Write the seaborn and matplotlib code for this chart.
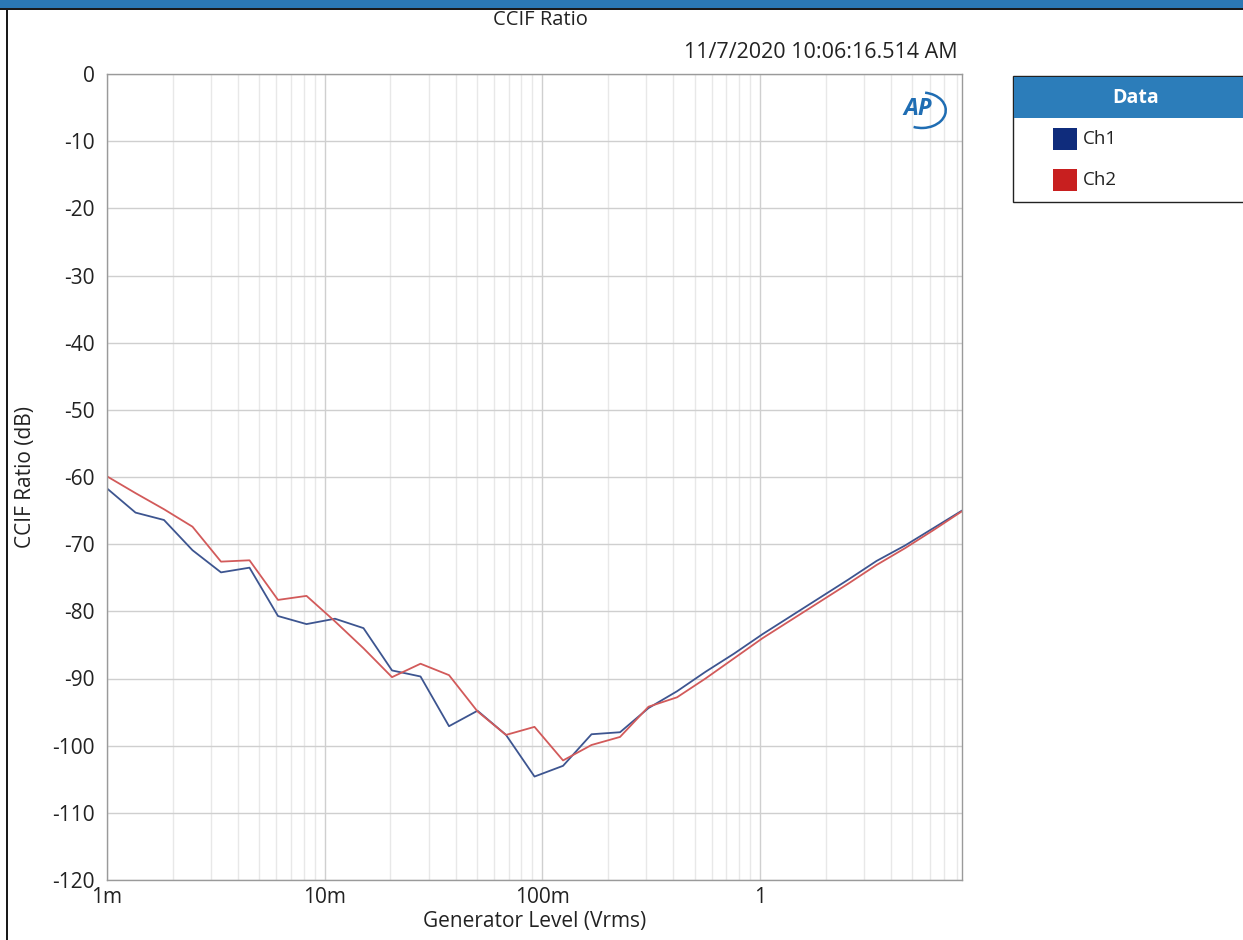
import numpy as np
import pandas as pd
import seaborn as sns
import matplotlib
matplotlib.use("Agg")
import matplotlib.pyplot as plt
from matplotlib.patches import Rectangle, Arc
from matplotlib.ticker import FixedLocator, LogLocator, NullFormatter

# Generator sweep (Vrms)
level_v = [0.001000, 0.001352, 0.001827, 0.002470, 0.003339, 0.004514, 0.006102,
           0.008249, 0.01115, 0.01507, 0.02038, 0.02755, 0.03724, 0.05034,
           0.06805, 0.09199, 0.1244, 0.1681, 0.2273, 0.3072, 0.4153, 0.5614,
           0.7589, 1.026, 1.387, 1.875, 2.534, 3.426, 4.631, 6.260, 8.46]

# CCIF ratio per channel (dB)
ch1_db = [-61.7, -65.3, -66.4, -70.9, -74.2, -73.5, -80.7, -81.9, -81.1, -82.5,
          -88.8, -89.7, -97.1, -94.8, -98.4, -104.6, -103.0, -98.3, -98.0, -94.4,
          -91.9, -89.0, -86.3, -83.4, -80.7, -78.0, -75.3, -72.5, -70.2, -67.6, -65.0]
ch2_db = [-59.9, -62.4, -64.8, -67.4, -72.6, -72.4, -78.3, -77.7, -81.5, -85.5,
          -89.8, -87.8, -89.5, -94.9, -98.4, -97.2, -102.2, -99.9, -98.7, -94.2,
          -92.8, -90.0, -87.0, -84.0, -81.3, -78.6, -75.9, -73.1, -70.6, -67.9, -65.1]

channels = ["Ch1", "Ch2"]
line_colors = ["#3d5590", "#d25a5a"]
legend_colors = ["#0f2c7c", "#c81f1f"]

x_ticks = [0.001, 0.01, 0.1, 1]
x_tick_labels = ["1m", "10m", "100m", "1"]
y_ticks = list(range(0, -121, -10))

df = pd.DataFrame({
    "level": level_v * 2,
    "ratio": ch1_db + ch2_db,
    "channel": [channels[0]] * len(level_v) + [channels[1]] * len(level_v),
})

sns.set_style("white")
plt.rcParams["font.family"] = ["Open Sans", "DejaVu Sans"]

W, H = 1243, 940
fig = plt.figure(figsize=(W / 100, H / 100), dpi=100)
ax = fig.add_axes([107 / W, 1 - 880 / H, (962 - 107) / W, (880 - 74) / H])

sns.lineplot(data=df, x="level", y="ratio", hue="channel", hue_order=channels,
             palette=line_colors, linewidth=1.3, legend=False, ax=ax, sort=False)

ax.set_xscale("log")
ax.set_xlim(0.001, 8.46)
ax.set_ylim(-120, 0)
ax.xaxis.set_major_locator(FixedLocator(x_ticks))
ax.set_xticklabels(x_tick_labels)
ax.xaxis.set_minor_locator(LogLocator(base=10, subs=np.arange(2, 10)))
ax.xaxis.set_minor_formatter(NullFormatter())
ax.set_yticks(y_ticks)
ax.set_yticklabels([str(v) for v in y_ticks])

ax.grid(which="major", color="#cfcfcf", linewidth=1.0)
ax.grid(which="minor", axis="x", color="#e8e8e8", linewidth=1.0)
ax.set_axisbelow(True)
ax.tick_params(axis="both", which="both", length=0, labelsize=15, colors="#222222")
ax.tick_params(axis="x", pad=5)
ax.tick_params(axis="y", pad=9)
for s in ax.spines.values():
    s.set_color("#9a9a9a")
    s.set_linewidth(1.0)

ax.set_xlabel("Generator Level (Vrms)", fontsize=15, color="#222222")
ax.set_ylabel("CCIF Ratio (dB)", fontsize=15, color="#222222")
ax.xaxis.label.set_va("center")
ax.yaxis.label.set_va("center")
ax.xaxis.set_label_coords(0.5, -(921 - 880) / 806)
ax.yaxis.set_label_coords(-(107 - 26) / 855, 0.5)

# Titles
fig.text(540 / W, 1 - 20 / H, "CCIF Ratio", ha="center", va="center",
         fontsize=14.5, color="#222222")
fig.text(958 / W, 1 - 52 / H, "11/7/2020 10:06:16.514 AM", ha="right",
         va="center", fontsize=15.5, color="#222222")

# Window chrome: top bar and left border
fig.patches.append(Rectangle((0, 1 - 8 / H), 1, 8 / H, transform=fig.transFigure,
                             facecolor="#2b78b4", edgecolor="none"))
fig.patches.append(Rectangle((0, 1 - 10 / H), 1, 2 / H, transform=fig.transFigure,
                             facecolor="#1a1a1a", edgecolor="none"))
fig.patches.append(Rectangle((6 / W, 0), 2 / W, 1 - 8 / H, transform=fig.transFigure,
                             facecolor="#1a1a1a", edgecolor="none"))

# AP logo
ax.text(0.948, 0.956, "AP", transform=ax.transAxes, ha="center", va="center",
        fontsize=17, fontstyle="italic", fontweight="bold", color="#1f6db3")
ax.add_patch(Arc((0.953, 0.955), 0.056, 0.044, theta1=-115, theta2=80,
                 transform=ax.transAxes, color="#1f6db3", linewidth=1.8))

# Legend panel
lx0 = 1013 / W
ly0, ly1 = 1 - 202 / H, 1 - 76 / H
fig.patches.append(Rectangle((lx0, ly0), 1 - lx0 + 0.01, ly1 - ly0, transform=fig.transFigure,
                             facecolor="white", edgecolor="#222222", linewidth=1.0))
fig.patches.append(Rectangle((lx0 + 1 / W, 1 - 118 / H), 1 - lx0, 41 / H,
                             transform=fig.transFigure, facecolor="#2c7dba", edgecolor="none"))
fig.text(1136 / W, 1 - 98 / H, "Data", ha="center", va="center", fontsize=14,
         fontweight="bold", color="white")
for i, (name, col) in enumerate(zip(channels, legend_colors)):
    yc = 139 + i * 41
    fig.patches.append(Rectangle((1053 / W, 1 - (yc + 11) / H), 24 / W, 22 / H,
                                 transform=fig.transFigure, facecolor=col, edgecolor="none"))
    fig.text(1083 / W, 1 - yc / H, name, ha="left", va="center", fontsize=13.5,
             color="#222222")

fig.savefig("out.png", dpi=100)
